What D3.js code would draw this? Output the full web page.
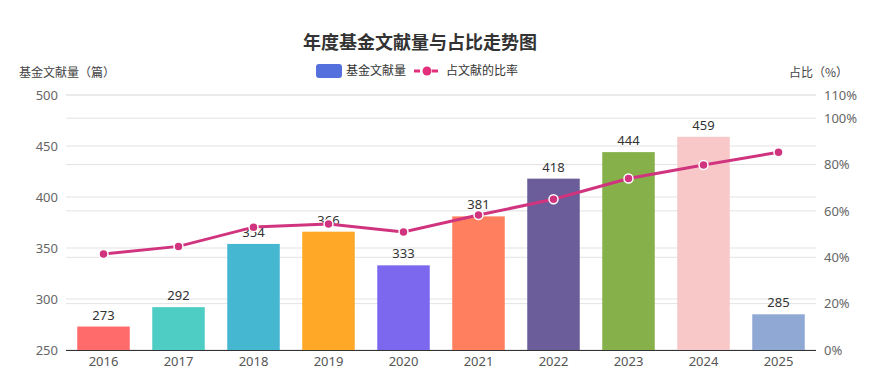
<!DOCTYPE html>
<html>
<head>
<meta charset="utf-8">
<script src="https://cdn.jsdelivr.net/npm/d3@7"></script>
<style>
  body { margin: 0; background: #fff; }
  svg text { font-family: "Noto Sans CJK SC", "Noto Sans", sans-serif; }
</style>
</head>
<body>
<div id="chart"></div>
<script>
const width = 886, height = 390;
const margin = ({top: 95, right: 70, bottom: 40, left: 66});

const years = ["2016","2017","2018","2019","2020","2021","2022","2023","2024","2025"];
const counts = [273, 292, 354, 366, 333, 381, 418, 444, 459, 285];
const ratios = [41.4, 44.7, 53.0, 54.4, 50.9, 58.2, 65.0, 74.0, 79.8, 85.3];
const barColors = ["#ff6b6b","#4ecdc4","#45b7d1","#ffa726","#7b68ee",
                   "#ff7f5e","#6a5d9a","#86b04a","#f8c8c8","#8fa8d4"];
const leftTicks = [250, 300, 350, 400, 450, 500];
const rightTicks = [0, 20, 40, 60, 80, 100, 110];

const lineColor = "#d1347f";

const x = d3.scaleBand()
    .domain(years)
    .range([margin.left, width - margin.right])
    .paddingInner(0.3)
    .paddingOuter(0.15);

const y = d3.scaleLinear()
    .domain([250, 500])
    .range([height - margin.bottom, margin.top]);

const y2 = d3.scaleLinear()
    .domain([0, 110])
    .range([height - margin.bottom, margin.top]);

const svg = d3.select("#chart").append("svg")
    .attr("width", width).attr("height", height);

// title
svg.append("text")
  .attr("x", 420).attr("y", 49)
  .attr("text-anchor", "middle")
  .attr("font-size", 18).attr("font-weight", "bold").attr("fill", "#333")
  .text("年度基金文献量与占比走势图");

// grid lines, both axes
const x0 = margin.left, x1 = width - margin.right;
svg.append("g").selectAll("line").data(leftTicks).join("line")
  .attr("x1", x0).attr("x2", x1)
  .attr("y1", d => y(d)).attr("y2", d => y(d))
  .attr("stroke", "#e3e3e3");
svg.append("g").selectAll("line").data(rightTicks).join("line")
  .attr("x1", x0).attr("x2", x1)
  .attr("y1", d => y2(d)).attr("y2", d => y2(d))
  .attr("stroke", "#e3e3e3");

// left axis
const yAxis = d3.axisLeft(y).tickValues(leftTicks).tickSize(0).tickPadding(8);
svg.append("g")
  .attr("transform", `translate(${x0},0)`)
  .call(yAxis)
  .call(g => g.select(".domain").remove())
  .call(g => g.selectAll("text").attr("font-size", 13).attr("fill", "#666")
      .style("font-family", "'Noto Sans', sans-serif"));

// right axis
const y2Axis = d3.axisRight(y2).tickValues(rightTicks).tickSize(0).tickPadding(8)
  .tickFormat(d => d + "%");
svg.append("g")
  .attr("transform", `translate(${x1},0)`)
  .call(y2Axis)
  .call(g => g.select(".domain").remove())
  .call(g => g.selectAll("text").attr("font-size", 13).attr("fill", "#666")
      .style("font-family", "'Noto Sans', sans-serif"));

// axis names
svg.append("text")
  .attr("x", 19).attr("y", 77)
  .attr("font-size", 12).attr("fill", "#444")
  .text("基金文献量（篇）");
svg.append("text")
  .attr("x", 789).attr("y", 77)
  .attr("font-size", 12).attr("fill", "#444")
  .text("占比（%）");

// bars
svg.append("g").selectAll("rect").data(counts).join("rect")
  .attr("x", (d, i) => x(years[i]))
  .attr("width", x.bandwidth())
  .attr("y", d => y(d))
  .attr("height", d => y(250) - y(d))
  .attr("fill", (d, i) => barColors[i]);

// bar labels
svg.append("g").selectAll("text").data(counts).join("text")
  .attr("x", (d, i) => x(years[i]) + x.bandwidth() / 2)
  .attr("y", d => y(d) - 7)
  .attr("text-anchor", "middle")
  .attr("font-size", 13).attr("fill", "#333")
  .style("font-family", "'Noto Sans', sans-serif")
  .text(d => d);

// x axis
const xAxis = d3.axisBottom(x).tickSize(0).tickPadding(7);
svg.append("g")
  .attr("transform", `translate(0,${height - margin.bottom})`)
  .call(xAxis)
  .call(g => g.select(".domain").attr("stroke", "#333").attr("d", `M${x0},0.5H${x1}`))
  .call(g => g.selectAll("text").attr("font-size", 13).attr("fill", "#555")
      .style("font-family", "'Noto Sans', sans-serif"));

// ratio line
const ratioLine = d3.line()
  .x((d, i) => x(years[i]) + x.bandwidth() / 2)
  .y(d => y2(d));

svg.append("path")
  .datum(ratios)
  .attr("d", ratioLine)
  .attr("fill", "none")
  .attr("stroke", lineColor)
  .attr("stroke-width", 3);

svg.append("g").selectAll("circle").data(ratios).join("circle")
  .attr("cx", (d, i) => x(years[i]) + x.bandwidth() / 2)
  .attr("cy", d => y2(d))
  .attr("r", 4.5)
  .attr("fill", lineColor)
  .attr("stroke", "#fff")
  .attr("stroke-width", 1.5);

// legend
const legend = svg.append("g");
legend.append("rect")
  .attr("x", 316).attr("y", 64).attr("width", 26).attr("height", 14).attr("rx", 3)
  .attr("fill", "#5470dc");
legend.append("text")
  .attr("x", 346).attr("y", 75)
  .attr("font-size", 12).attr("fill", "#333")
  .text("基金文献量");
legend.append("line")
  .attr("x1", 414).attr("x2", 440).attr("y1", 71).attr("y2", 71)
  .attr("stroke", "#e2307c").attr("stroke-width", 3).attr("stroke-dasharray", "6,3");
legend.append("circle")
  .attr("cx", 427).attr("cy", 71).attr("r", 4.5)
  .attr("fill", "#e2307c");
legend.append("text")
  .attr("x", 446).attr("y", 75)
  .attr("font-size", 12).attr("fill", "#333")
  .text("占文献的比率");
</script>
</body>
</html>
